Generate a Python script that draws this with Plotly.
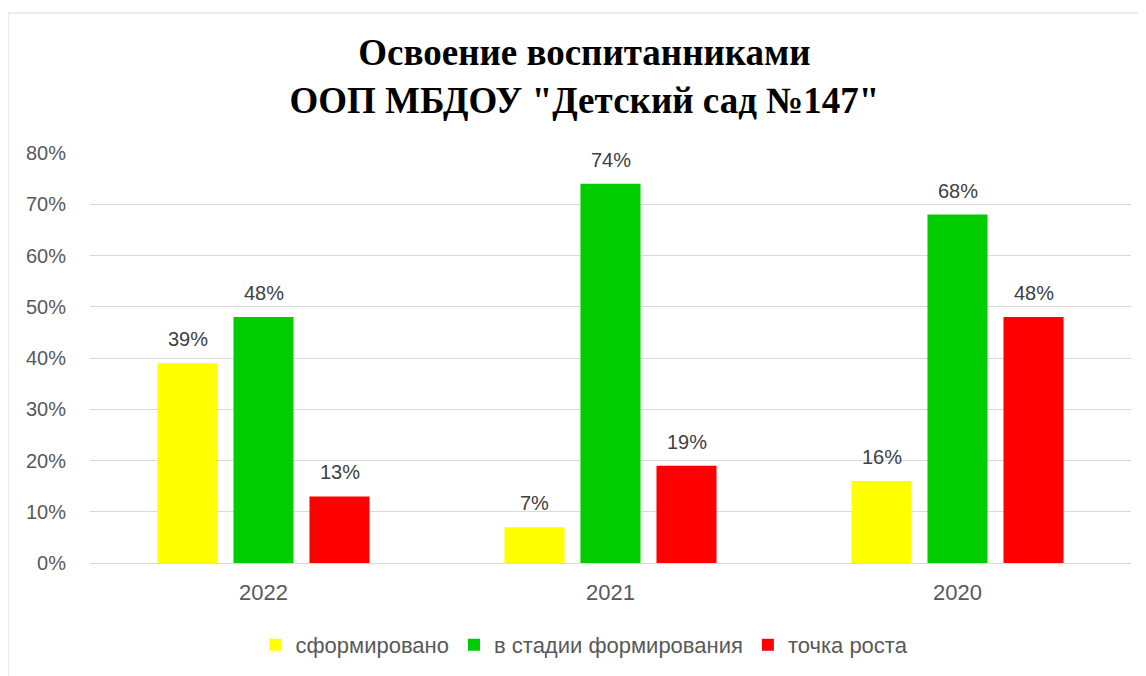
import plotly.graph_objects as go

categories = ["2022", "2021", "2020"]
series_names = ["сформировано", "в стадии формирования", "точка роста"]
formed = [0.39, 0.07, 0.16]
forming = [0.48, 0.74, 0.68]
growth = [0.13, 0.19, 0.48]
tick_vals = [0, 0.1, 0.2, 0.3, 0.4, 0.5, 0.6, 0.7, 0.8]
tick_text = ["0%", "10%", "20%", "30%", "40%", "50%", "60%", "70%", "80%"]
title_text = "Освоение воспитанниками<br>ООП МБДОУ \"Детский сад №147\""

colors = ["#FFFF00", "#00CC00", "#FF0000"]
series = [formed, forming, growth]
label_font = "Liberation Sans, Arial, sans-serif"

fig = go.Figure()
for name, vals, col in zip(series_names, series, colors):
    fig.add_trace(go.Bar(
        x=categories, y=vals, name=name,
        marker=dict(color=col, line=dict(width=0)),
        hoverinfo="skip",
    ))

shifts = [-76, 0, 76]
for vals, sh in zip(series, shifts):
    for i, v in enumerate(vals):
        fig.add_annotation(
            x=i, y=v, text=f"{round(v*100)}%", showarrow=False,
            xanchor="center", yanchor="bottom", xshift=sh, yshift=11,
            font=dict(family=label_font, size=20, color="#404040"),
        )

fig.update_layout(
    width=1146, height=676,
    paper_bgcolor="white", plot_bgcolor="white",
    margin=dict(l=82, r=23, t=145, b=121, autoexpand=False),
    barmode="group", bargap=0.343, bargroupgap=0.21,
    title=dict(
        text=title_text, x=0.503, xanchor="center",
        yref="container", y=1 - 57/676, yanchor="top",
        font=dict(family="Liberation Serif, Times New Roman, serif", size=37, color="black", weight="bold"),
    ),
    font=dict(family=label_font, size=20, color="#595959"),
    legend=dict(
        orientation="h", x=0.475, xanchor="center",
        yref="container", y=39/676, yanchor="middle",
        font=dict(family=label_font, size=22, color="#595959"),
        tracegroupgap=0,
    ),
    yaxis=dict(
        range=[0, 0.8], tickvals=tick_vals, ticktext=tick_text,
        showgrid=True, gridcolor="#D9D9D9", gridwidth=1,
        zeroline=False, showline=False, ticks="", ticklabelstandoff=23,
        tickfont=dict(family=label_font, size=20, color="#595959"),
    ),
    xaxis=dict(
        type="category", range=[-0.5, len(categories) - 0.5],
        showline=True, linecolor="#D9D9D9", linewidth=1, ticks="",
        ticklabelstandoff=10,
        tickfont=dict(family=label_font, size=22, color="#595959"),
    ),
    showlegend=True,
)

fig.add_shape(
    type="rect", xref="paper", yref="paper",
    x0=-82/1041, x1=1.05, y0=-0.35, y1=(563-13)/410,
    line=dict(color="#D9D9D9", width=1), fillcolor="rgba(0,0,0,0)", layer="below",
)

fig.write_html("out.html")
